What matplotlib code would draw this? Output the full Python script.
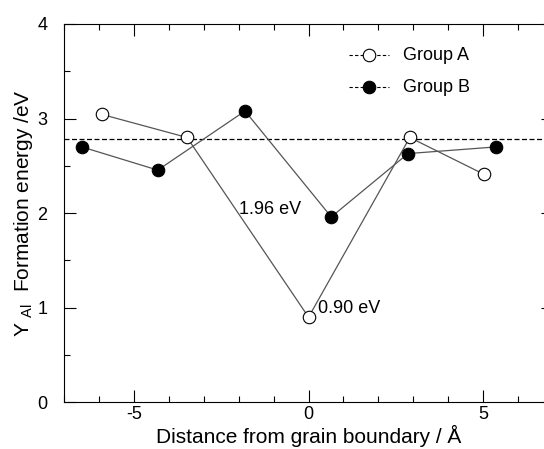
import matplotlib
matplotlib.use("Agg")
import matplotlib.pyplot as plt
from matplotlib.ticker import MultipleLocator

plt.rcParams['font.family'] = ['Liberation Sans', 'DejaVu Sans']
plt.rcParams['mathtext.fontset'] = 'custom'
plt.rcParams['mathtext.rm'] = 'Liberation Sans'
plt.rcParams['axes.unicode_minus'] = False

# données
xA = [-5.93, -3.48, 0.0, 2.90, 5.03]
yA = [3.045, 2.80, 0.90, 2.80, 2.41]
xB = [-6.49, -4.32, -1.82, 0.65, 2.85, 5.36]
yB = [2.70, 2.455, 3.08, 1.96, 2.63, 2.70]
y_ref = 2.78
annot = [("1.96 eV", -1.98, 2.04), ("0.90 eV", 0.27, 0.99)]

fig = plt.figure(figsize=(5.44, 4.49), dpi=100)
# l'axe droit sort de l'image (coupé)
ax = fig.add_axes([64.2/544, (449-402.3)/449, (552.9-64.2)/544, (402.3-24)/449])

ax.axhline(y_ref, color='black', lw=0.9, ls=(0, (4, 2)))
ax.plot(xA, yA, '-o', color='#555555', lw=0.9, ms=9, mfc='white', mec='black', mew=0.8, zorder=3)
ax.plot(xB, yB, '-o', color='#555555', lw=0.9, ms=9, mfc='black', mec='black', mew=0.8, zorder=3)

for txt, x, y in annot:
    ax.text(x, y, txt, fontsize=13, va='center', ha='left', zorder=4)

# légende faite à la main
for yy, fc, lab in [(3.67, 'white', 'Group A'), (3.33, 'black', 'Group B')]:
    xl = [(349-308.1)/34.97, (389-308.1)/34.97]
    ax.plot(xl, [yy, yy], color='black', lw=0.8, ls=(0, (3, 2)))
    ax.plot([(xl[0]+xl[1])/2], [yy], 'o', ms=9, mfc=fc, mec='black', mew=0.8)
    ax.text((402.5-308.1)/34.97, yy, lab, fontsize=13, va='center', ha='left')

ax.set_xlim(-7, 7)
ax.set_ylim(0, 4)
ax.xaxis.set_major_locator(MultipleLocator(5))
ax.xaxis.set_minor_locator(MultipleLocator(1))
ax.yaxis.set_major_locator(MultipleLocator(1))
ax.yaxis.set_minor_locator(MultipleLocator(0.5))
ax.tick_params(which='both', direction='in', top=True, right=True, labelsize=13, width=0.8)
ax.tick_params(which='major', length=8.5)
ax.tick_params(which='minor', length=4)
ax.tick_params(axis='x', which='major', pad=3)
ax.tick_params(axis='y', which='major', pad=12)
for s in ax.spines.values():
    s.set_linewidth(0.8)

ax.set_xlabel('Distance from grain boundary / Å', fontsize=15, labelpad=1)
ax.set_ylabel(r'Y $_{\rm Al}$  Formation energy /eV', fontsize=15, labelpad=2)

fig.savefig('out.png', dpi=100)
